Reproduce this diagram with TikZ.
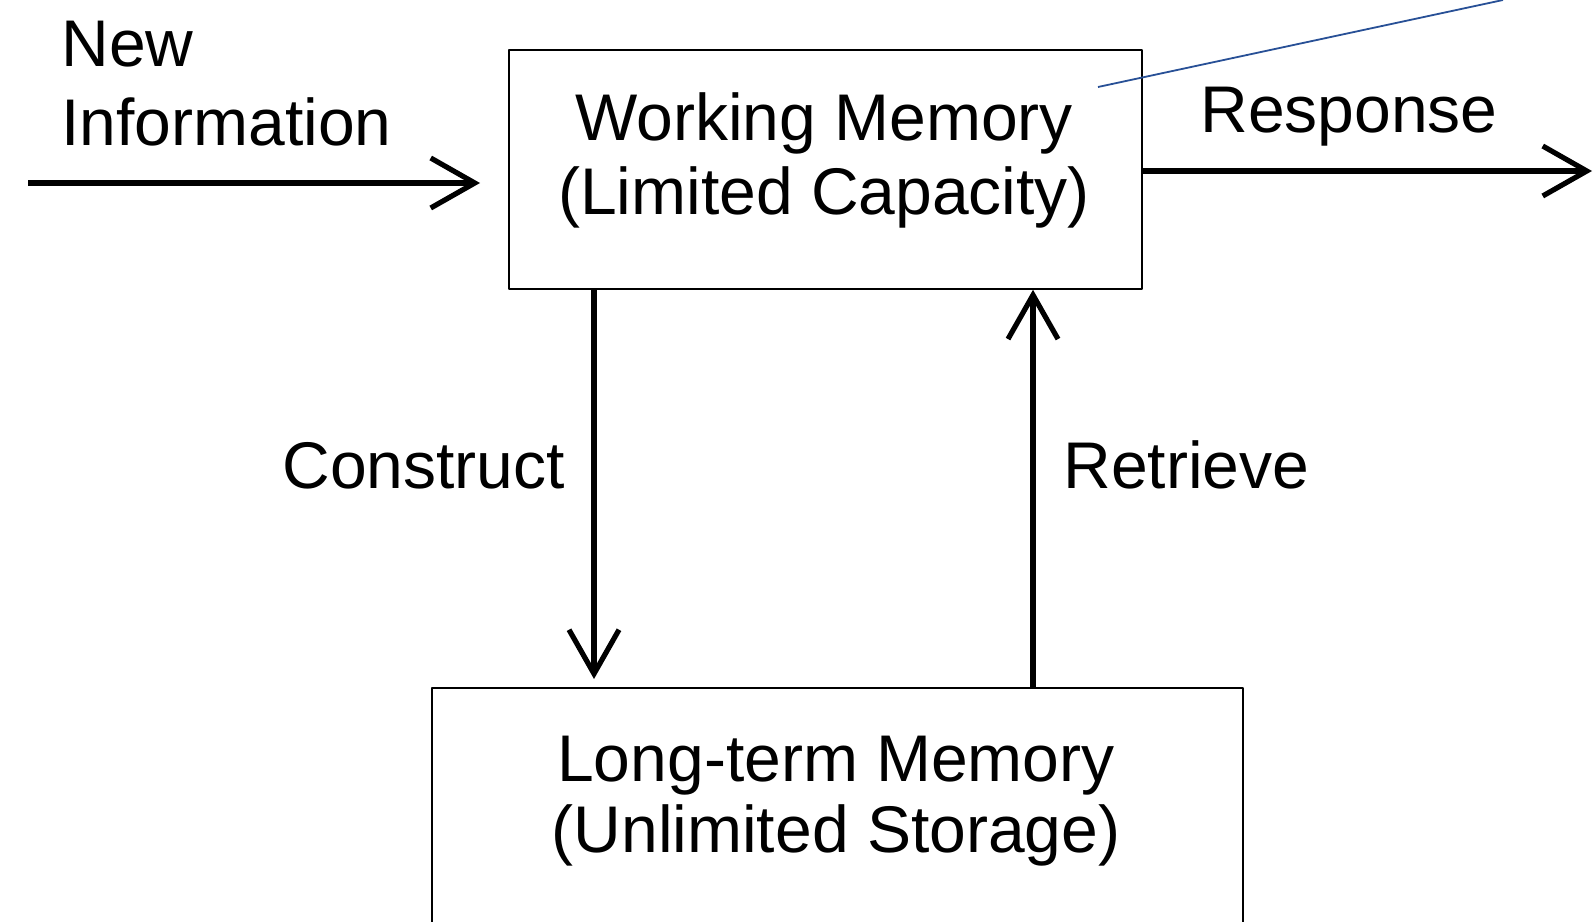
\documentclass[tikz,border=0pt]{standalone}
\usepackage{fontspec}
\setmainfont{Liberation Sans}
\usetikzlibrary{arrows.meta,positioning,calc}
\definecolor{pointer}{RGB}{40,80,150}

\begin{document}
\begin{tikzpicture}[x=0.5pt,y=-0.5pt, line join=round,
  box/.style={draw, line width=0.9pt, inner sep=0pt},
  label/.style={font=\fontsize{33}{37}\selectfont, inner sep=0pt},
  flow/.style={line width=2.6pt, -{Straight Barb[length=22pt,width=25pt,line width=2.6pt]}}]
\useasboundingbox (0,0) rectangle (1595,921);
\node[box, minimum width=316.5pt, minimum height=119.5pt, anchor=north west] (wm)  at (508,49) {};
\node[box, minimum width=405.5pt, minimum height=140pt, anchor=north west]   (ltm) at (431,687) {};
\node[label, align=center, anchor=base] (wmtext)  at (824,214) {Working Memory\\(Limited Capacity)};
\node[label, font=\fontsize{33}{35.5}\selectfont, align=center, anchor=base] (ltmtext) at (836,852) {Long-term Memory\\(Unlimited Storage)};
\node[label, font=\fontsize{33}{39.5}\selectfont, align=left, anchor=base west] (newinfo) at (61,145) {New\\Information};
\node[label, anchor=base west] (response)  at (1200,132) {Response};
\node[label, anchor=base west] (construct) at (282,488)  {Construct};
\node[label, anchor=base west] (retrieve)  at (1063,488) {Retrieve};
\coordinate (in)   at (28,183);
\coordinate (out)  at (1592,171);
\coordinate (down) at (594,0);
\coordinate (up)   at (1033,0);
\draw[flow, shorten >=14pt] (in) -- (wm.west |- in);
\draw[flow] (wm.east |- out) -- (out);
\draw[flow, shorten >=4pt] (wm.south -| down) -- (ltm.north -| down);
\draw[flow] (ltm.north -| up) -- (wm.south -| up);
\coordinate (ptrA) at (1098,87);
\coordinate (ptrB) at (1503,0);
\draw[pointer, line width=0.9pt] (ptrA) -- (ptrB);
\end{tikzpicture}
\end{document}
